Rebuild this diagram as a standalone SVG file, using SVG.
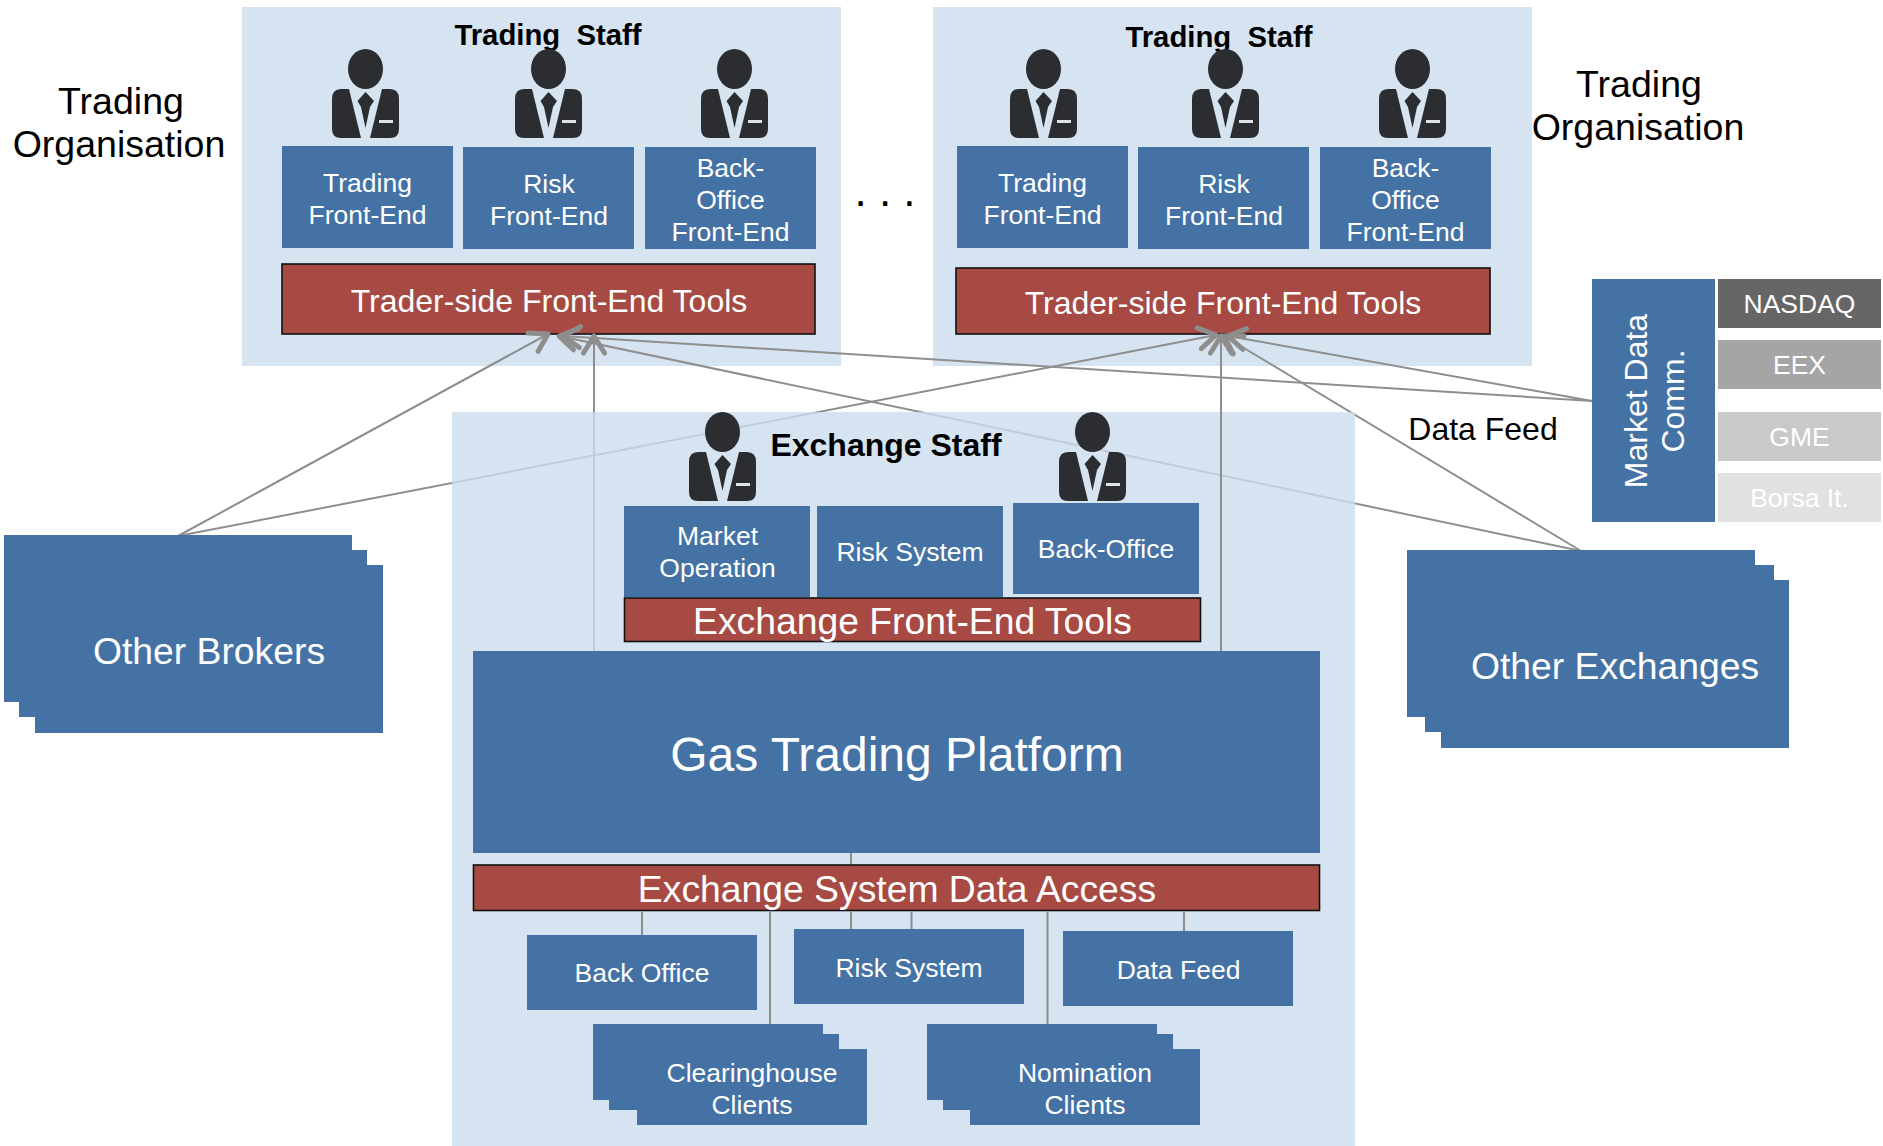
<svg xmlns="http://www.w3.org/2000/svg" xmlns:xlink="http://www.w3.org/1999/xlink" width="1883" height="1146" viewBox="0 0 1883 1146">
<style>
text{font-family:"Liberation Sans",Arial,sans-serif;text-anchor:middle;fill:#fff}
.panel{fill:#d6e3f1}
.xpanel{fill:#ccdcec;fill-opacity:.8}
.box{fill:#4472a4}
.red{fill:#a64a43;stroke:#111;stroke-width:1.6}
.t26{font-size:26.5px}
.t32{font-size:32px}
.t37{font-size:37.300px}
.blk{fill:#000}
.hd{fill:#000;font-weight:bold;font-size:29.300px;white-space:pre}
.c{fill:none;stroke:#8e8e8e;stroke-width:2}
.a{marker-end:url(#arr)}
.src{font-size:26.5px}
</style>
<defs>
<marker id="arr" markerUnits="userSpaceOnUse" markerWidth="44" markerHeight="44" refX="22" refY="22" orient="auto">
<path d="M5 11.500L22 22L5 32.500" fill="none" stroke="#8e8e8e" stroke-width="5" stroke-linecap="round" stroke-linejoin="round"/>
</marker>
<symbol id="person" width="67" height="90" viewBox="0 0 67 90">
<ellipse cx="33.500" cy="20" rx="17.500" ry="20" fill="#2b2d31"/>
<path d="M9 40H17L29 89H9Q0 89 0 80V50Q0 40 9 40Z" fill="#2b2d31"/>
<path d="M50 40H58Q67 40 67 50V80Q67 89 58 89H38Z" fill="#2b2d31"/>
<path d="M33.500 43L42 52L38 58L33.500 79L29 58L25.500 52Z" fill="#2b2d31"/>
<rect x="47" y="71" width="14" height="3" fill="#dfe3e8"/>
</symbol>
</defs>
<rect width="1883" height="1146" fill="#fff"/>

<g id="org-left">
<rect class="panel" x="242" y="7" width="599" height="359"/>
<text class="hd" x="548" y="45">Trading  Staff</text>
<use xlink:href="#person" x="332" y="49"/><use xlink:href="#person" x="515" y="49"/><use xlink:href="#person" x="701" y="49"/>
<g id="trading-fe-1"><rect class="box" x="282" y="146" width="171" height="102"/><text class="t26" x="367.500" y="192">Trading</text><text class="t26" x="367.500" y="224">Front-End</text></g>
<g id="risk-fe-1"><rect class="box" x="463" y="147" width="171" height="102"/><text class="t26" x="549" y="193">Risk</text><text class="t26" x="549" y="225">Front-End</text></g>
<g id="back-fe-1"><rect class="box" x="645" y="147" width="171" height="102"/><text class="t26" x="730.500" y="177">Back-</text><text class="t26" x="730.500" y="209">Office</text><text class="t26" x="730.500" y="241">Front-End</text></g>
<g id="tools-1"><rect class="red" x="282" y="264" width="533" height="70"/><text class="t32" x="549" y="312">Trader-side Front-End Tools</text></g>
</g>

<g id="org-right">
<rect class="panel" x="933" y="7" width="599" height="359"/>
<text class="hd" x="1219" y="47">Trading  Staff</text>
<use xlink:href="#person" x="1010" y="49"/><use xlink:href="#person" x="1192" y="49"/><use xlink:href="#person" x="1379" y="49"/>
<g id="trading-fe-2"><rect class="box" x="957" y="146" width="171" height="102"/><text class="t26" x="1042.500" y="192">Trading</text><text class="t26" x="1042.500" y="224">Front-End</text></g>
<g id="risk-fe-2"><rect class="box" x="1138" y="147" width="171" height="102"/><text class="t26" x="1224" y="193">Risk</text><text class="t26" x="1224" y="225">Front-End</text></g>
<g id="back-fe-2"><rect class="box" x="1320" y="147" width="171" height="102"/><text class="t26" x="1405.500" y="177">Back-</text><text class="t26" x="1405.500" y="209">Office</text><text class="t26" x="1405.500" y="241">Front-End</text></g>
<g id="tools-2"><rect class="red" x="956" y="268" width="534" height="66"/><text class="t32" x="1223" y="314">Trader-side Front-End Tools</text></g>
</g>

<g id="connectors-behind">
<path class="c a" d="M178 536L548 334"/>
<path class="c a" d="M178 536L1216 335"/>
<path class="c a" d="M594 651V336"/>
<path class="c a" d="M1581 551L559 336"/>
<path class="c a" d="M1592 401L563 336"/>
<path class="c a" d="M1592 401L1228 336"/>
<path class="c a" d="M1581 551L1224 336"/>
</g>

<g id="exchange-panel">
<rect class="xpanel" x="452" y="412" width="903" height="734"/>
<text class="hd" x="886" y="456" style="font-size:32px">Exchange Staff</text>
<use xlink:href="#person" x="689" y="412"/><use xlink:href="#person" x="1059" y="412"/>
</g>

<g id="connectors">
<path class="c a" d="M1221 651V336"/>
<path class="c" d="M851 853V865M642 912V936M770 912V1025M851 912V929M911.500 912V929M1047.500 912V1025M1184 912V931"/>
</g>

<g id="market-operation"><rect class="box" x="624" y="506" width="186" height="91"/><text class="t26" x="717.500" y="545">Market</text><text class="t26" x="717.500" y="577">Operation</text></g>
<g id="risk-system-top"><rect class="box" x="817" y="506" width="186" height="91"/><text class="t26" x="910" y="561">Risk System</text></g>
<g id="back-office-top"><rect class="box" x="1013" y="503" width="186" height="91"/><text class="t26" x="1106" y="558">Back-Office</text></g>
<g id="exchange-tools"><rect class="red" x="624.500" y="598" width="576" height="43.500"/><text class="t37" x="912.500" y="634">Exchange Front-End Tools</text></g>
<g id="platform"><rect class="box" x="473" y="651" width="847" height="202"/><text x="897" y="771" font-size="48">Gas Trading Platform</text></g>
<g id="data-access"><rect class="red" x="473.500" y="865" width="846" height="45.500"/><text class="t37" x="897" y="902">Exchange System Data Access</text></g>
<g id="back-office"><rect class="box" x="527" y="935" width="230" height="75"/><text class="t26" x="642" y="982">Back Office</text></g>
<g id="risk-system"><rect class="box" x="794" y="929" width="230" height="75"/><text class="t26" x="909" y="977">Risk System</text></g>
<g id="data-feed"><rect class="box" x="1063" y="931" width="230" height="75"/><text class="t26" x="1178.500" y="979">Data Feed</text></g>
<g id="clearinghouse"><rect class="box" x="593" y="1024" width="230" height="76"/><rect class="box" x="609" y="1034" width="230" height="76"/><rect class="box" x="637" y="1049" width="230" height="76"/><text class="t26" x="752" y="1082">Clearinghouse</text><text class="t26" x="752" y="1114">Clients</text></g>
<g id="nomination"><rect class="box" x="927" y="1024" width="230" height="76"/><rect class="box" x="943" y="1034" width="230" height="76"/><rect class="box" x="970" y="1049" width="230" height="76"/><text class="t26" x="1085" y="1082">Nomination</text><text class="t26" x="1085" y="1114">Clients</text></g>

<g id="other-brokers"><rect class="box" x="4" y="535" width="348" height="167"/><rect class="box" x="19" y="550" width="348" height="167"/><rect class="box" x="35" y="565" width="348" height="168"/><text class="t37" x="209" y="664">Other Brokers</text></g>
<g id="other-exchanges"><rect class="box" x="1407" y="550" width="348" height="167"/><rect class="box" x="1425" y="565" width="349" height="167"/><rect class="box" x="1441" y="580" width="348" height="168"/><text class="t37" x="1615" y="679">Other Exchanges</text></g>

<g id="market-data"><rect class="box" x="1592" y="279" width="123" height="243"/>
<text class="t32" transform="translate(1646.500 401) rotate(-90)">Market Data</text>
<text class="t32" transform="translate(1684 401) rotate(-90)">Comm.</text></g>
<g id="nasdaq"><rect x="1718" y="279" width="163" height="49" fill="#666"/><text class="src" x="1799.500" y="313">NASDAQ</text></g>
<g id="eex"><rect x="1718" y="340" width="163" height="49" fill="#a5a5a5"/><text class="src" x="1799.500" y="374">EEX</text></g>
<g id="gme"><rect x="1718" y="412" width="163" height="49" fill="#c9c9c9"/><text class="src" x="1799.500" y="446">GME</text></g>
<g id="borsa"><rect x="1718" y="473" width="163" height="49" fill="#e1e1e1"/><text class="src" x="1799.500" y="507">Borsa It.</text></g>

<text class="blk" font-size="37.500" x="121" y="114">Trading</text>
<text class="blk" font-size="37.500" x="119" y="157">Organisation</text>
<text class="blk" font-size="37.500" x="1639" y="97">Trading</text>
<text class="blk" font-size="37.500" x="1638" y="140">Organisation</text>
<text class="blk" font-size="32" x="1483" y="440">Data Feed</text>
<text class="blk" font-size="44" x="885" y="206">. . .</text>
</svg>
